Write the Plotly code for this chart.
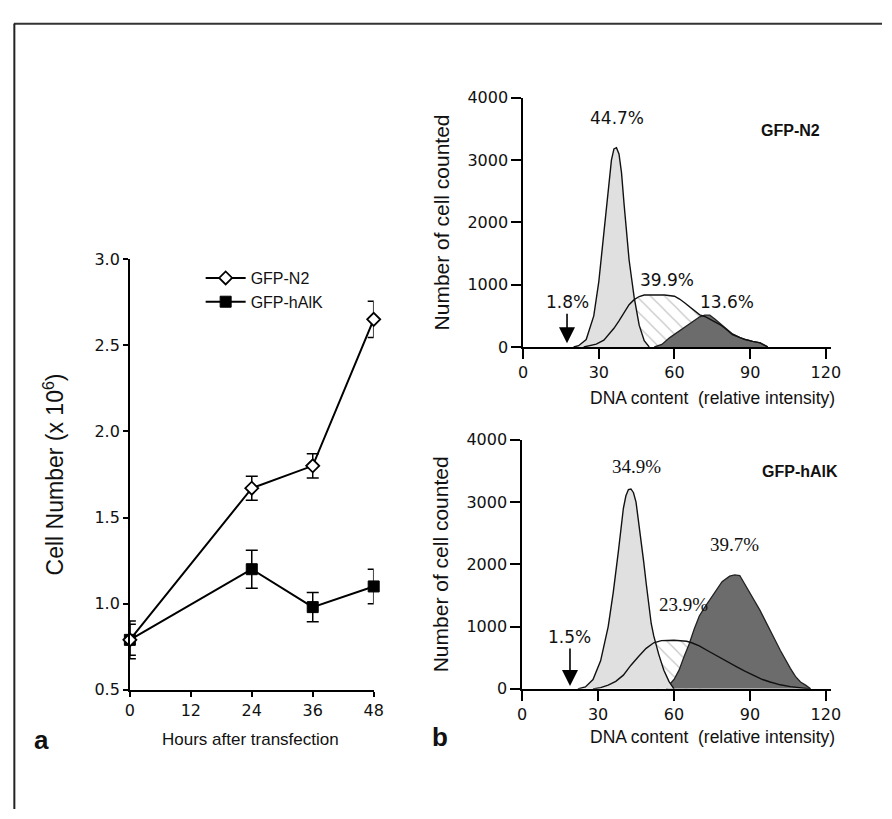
import plotly.graph_objects as go

# ---------------- data: panel a (growth curve) ----------------
hours = [0, 24, 36, 48]
n2_mean = [0.79, 1.67, 1.80, 2.65]
n2_err = [0.11, 0.07, 0.07, 0.105]
halk_mean = [0.79, 1.20, 0.98, 1.10]
halk_err = [0.09, 0.11, 0.085, 0.10]
hour_ticks = [0, 12, 24, 36, 48]
cell_ticks = [0.5, 1.0, 1.5, 2.0, 2.5, 3.0]

# ---------------- data: panel b, GFP-N2 histogram ----------------
n2_g1_x = [20, 22, 25, 28, 30, 32, 34, 35, 36, 37, 38, 39, 40, 41, 42, 43, 44, 46, 48, 50]
n2_g1_y = [0, 20, 120, 500, 1050, 1800, 2600, 3000, 3180, 3200, 3100, 2800, 2300, 1800, 1400, 1100, 800, 350, 100, 0]
n2_env_x = [24, 27, 29, 32, 34, 36, 38, 40, 42, 44, 46, 48, 52, 56, 60, 62, 64, 66, 68, 70, 72, 75, 78, 80, 83, 86, 88, 91, 94, 97]
n2_env_y = [0, 20, 45, 110, 200, 300, 420, 560, 680, 760, 810, 835, 840, 835, 815, 770, 710, 640, 570, 515, 490, 430, 360, 300, 200, 150, 120, 90, 65, 0]
n2_s_x = [42, 44, 46, 48, 52, 56, 60, 62, 64, 66, 68, 70, 72, 74]
n2_s_y = [680, 760, 810, 835, 840, 835, 815, 770, 710, 640, 570, 515, 490, 460]
n2_g2_x = [52, 55, 58, 62, 65, 68, 70, 72, 74, 76, 78, 80, 83, 86, 88, 91, 94, 97]
n2_g2_y = [0, 40, 146, 260, 354, 440, 484, 510, 510, 450, 380, 310, 210, 150, 120, 90, 65, 0]

# ---------------- data: panel b, GFP-hAlK histogram ----------------
ha_g1_x = [22, 25, 28, 31, 34, 36, 38, 40, 41, 42, 43, 44, 45, 46, 47, 48, 49, 50, 51, 52, 54, 56, 58, 60]
ha_g1_y = [0, 30, 150, 450, 1000, 1550, 2200, 2900, 3100, 3200, 3210, 3150, 3000, 2700, 2400, 2050, 1700, 1400, 1050, 850, 550, 300, 120, 0]
ha_env_x = [28, 31, 34, 37, 40, 43, 46, 49, 52, 55, 60, 65, 67, 70, 73, 76, 79, 82, 85, 88, 91, 95, 98, 102, 106, 110, 114]
ha_env_y = [0, 20, 60, 120, 220, 380, 520, 650, 740, 775, 780, 765, 740, 690, 620, 550, 480, 410, 350, 285, 230, 150, 110, 65, 35, 15, 0]
ha_s_x = [49, 52, 55, 60, 65, 67, 70, 72]
ha_s_y = [650, 740, 775, 780, 765, 740, 690, 650]
ha_g2_x = [57, 58, 60, 62, 64, 66, 68, 70, 72, 74, 76, 79, 82, 84, 86, 88, 90, 92, 94, 96, 98, 100, 102, 104, 106, 108, 110, 112, 114]
ha_g2_y = [0, 60, 150, 300, 520, 720, 960, 1170, 1300, 1420, 1560, 1720, 1810, 1830, 1820, 1680, 1560, 1420, 1260, 1100, 930, 780, 620, 470, 330, 200, 110, 60, 0]

dna_ticks = [0, 30, 60, 90, 120]
count_ticks = [0, 1000, 2000, 3000, 4000]

W, H = 892, 819
def px(x):
    return x / W
def py(y):
    return 1 - y / H

SANS = "DejaVu Sans"
ARIAL = "Liberation Sans, Arial"
SERIF = "Liberation Serif, Times New Roman"

fig = go.Figure()

# ---- panel a traces ----
fig.add_trace(go.Scatter(
    x=hours, y=halk_mean, name="GFP-hAlK", mode="lines+markers",
    line=dict(color="black", width=2),
    marker=dict(symbol="square", size=11, color="black", line=dict(color="black", width=1)),
    error_y=dict(type="data", array=halk_err, color="black", thickness=1.5, width=6),
    cliponaxis=False, xaxis="x", yaxis="y"))
fig.add_trace(go.Scatter(
    x=hours, y=n2_mean, name="GFP-N2", mode="lines+markers",
    line=dict(color="black", width=2),
    marker=dict(symbol="diamond", size=10, color="white", line=dict(color="black", width=1.8)),
    error_y=dict(type="data", array=n2_err, color="black", thickness=1.5, width=6),
    cliponaxis=False, xaxis="x", yaxis="y"))

# ---- panel b histograms ----
def add_hist(xa, ya, g1x, g1y, envx, envy, sx, sy, g2x, g2y):
    fig.add_trace(go.Scatter(x=sx, y=sy, mode="lines", fill="tozeroy", fillcolor="white",
                             fillpattern=dict(shape="\\", fgcolor="#8a8a8a", bgcolor="white", size=10, solidity=0.12),
                             line=dict(width=0), showlegend=False, xaxis=xa, yaxis=ya, hoverinfo="skip"))
    fig.add_trace(go.Scatter(x=g2x, y=g2y, mode="lines", fill="tozeroy", fillcolor="#6c6c6c",
                             line=dict(color="#222", width=1.3), showlegend=False, xaxis=xa, yaxis=ya))
    fig.add_trace(go.Scatter(x=g1x, y=g1y, mode="lines", fill="tozeroy", fillcolor="#e0e0e0",
                             line=dict(color="#111", width=1.4), showlegend=False, xaxis=xa, yaxis=ya))
    fig.add_trace(go.Scatter(x=envx, y=envy, mode="lines",
                             line=dict(color="#111", width=1.4), showlegend=False, xaxis=xa, yaxis=ya))

add_hist("x2", "y2", n2_g1_x, n2_g1_y, n2_env_x, n2_env_y, n2_s_x, n2_s_y, n2_g2_x, n2_g2_y)
add_hist("x3", "y3", ha_g1_x, ha_g1_y, ha_env_x, ha_env_y, ha_s_x, ha_s_y, ha_g2_x, ha_g2_y)

axis_common = dict(showline=True, linecolor="black", linewidth=1.6, ticks="outside",
                   tickcolor="black", tickwidth=1.6, showgrid=False, zeroline=False,
                   tickfont=dict(family=SANS, size=16, color="#111"))

fig.update_layout(
    width=W, height=H, margin=dict(l=0, r=0, t=0, b=0),
    paper_bgcolor="white", plot_bgcolor="white",
    xaxis=dict(domain=[px(127), px(375)], anchor="y", range=[0, 48], tickvals=hour_ticks, ticklen=5,
               **axis_common),
    yaxis=dict(domain=[py(697), py(256)], anchor="x", range=[0.5, 3.0], tickvals=cell_ticks, tickformat=".1f", ticklen=5,
               title=dict(text="Cell Number (x 10<sup>6</sup>)", font=dict(family=ARIAL, size=23, color="#111"), standoff=24),
               **axis_common),
    xaxis2=dict(domain=[px(527), px(840)], anchor="y2", range=[0, 122], tickvals=dna_ticks, ticklen=10,
                **axis_common),
    yaxis2=dict(domain=[py(346), py(91)], anchor="x2", range=[0, 4000], tickvals=count_ticks, ticklen=10,
                title=dict(text="Number of cell counted", font=dict(family=ARIAL, size=21, color="#111"), standoff=12),
                **axis_common),
    xaxis3=dict(domain=[px(526), px(840)], anchor="y3", range=[0, 122], tickvals=dna_ticks, ticklen=10,
                **axis_common),
    yaxis3=dict(domain=[py(696), py(441)], anchor="x3", range=[0, 4000], tickvals=count_ticks, ticklen=10,
                title=dict(text="Number of cell counted", font=dict(family=ARIAL, size=21, color="#111"), standoff=12),
                **axis_common),
    legend=dict(x=px(199), y=py(258), xanchor="left", yanchor="top", traceorder="reversed",
                font=dict(family=ARIAL, size=16, color="#111"), bgcolor="rgba(0,0,0,0)", itemwidth=40),
    showlegend=True,
)

ann = []
def txt(text, x, y, xr, yr, font, size, bold=False, xanchor="center"):
    ann.append(dict(text=("<b>%s</b>" % text) if bold else text, x=x, y=y, xref=xr, yref=yr,
                    showarrow=False, xanchor=xanchor, yanchor="middle",
                    font=dict(family=font, size=size, color="#111")))

def arrow_label(text, xv, tip_y, label_y, xr, yr):
    # label sits at the arrow's tail; the arrow points down to the tip
    ann.append(dict(text=text, x=xv, y=tip_y, ax=xv, ay=label_y, xref=xr, yref=yr, axref=xr, ayref=yr,
                    showarrow=True, arrowhead=2, arrowsize=2.0, arrowwidth=1.6, arrowcolor="black",
                    standoff=0, startstandoff=0,
                    font=dict(family=SANS, size=17, color="#111")))

txt("Hours after transfection", px(250), py(748), "paper", "paper", ARIAL, 17)
txt("DNA content  (relative intensity)", px(720), py(398), "paper", "paper", ARIAL, 17.5)
txt("DNA content  (relative intensity)", px(720), py(745), "paper", "paper", ARIAL, 17.5)
txt("44.7%", 37.4, 3672, "x2", "y2", SANS, 17)
txt("39.9%", 56.9, 1078, "x2", "y2", SANS, 17)
arrow_label("1.8%", 17.4, 60, 719, "x2", "y2")
txt("13.6%", 81.0, 719, "x2", "y2", SANS, 17)
txt("GFP-N2", 93.5, 3484, "x2", "y2", ARIAL, 16, bold=True, xanchor="left")
txt("34.9%", 45.1, 3576, "x3", "y3", SERIF, 19)
txt("39.7%", 84.0, 2322, "x3", "y3", SERIF, 19)
txt("23.9%", 63.8, 1349, "x3", "y3", SERIF, 19)
arrow_label("1.5%", 18.9, 47, 831, "x3", "y3")
txt("GFP-hAlK", 93.8, 3498, "x3", "y3", ARIAL, 16, bold=True, xanchor="left")
txt("a", px(37), py(748), "paper", "paper", ARIAL, 26, bold=True)
txt("b", px(442), py(745), "paper", "paper", ARIAL, 26, bold=True)
fig.update_layout(annotations=ann)

# page frame
fig.update_layout(shapes=[
    dict(type="line", xref="paper", yref="paper", x0=px(9), x1=1, y0=py(15), y1=py(15), line=dict(color="#333", width=2)),
    dict(type="line", xref="paper", yref="paper", x0=px(9.5), x1=px(9.5), y0=py(15), y1=0, line=dict(color="#222", width=2)),
])

fig.write_html("out.html", config={"displayModeBar": False},
               post_script="document.body.style.margin='0px';document.body.style.overflow='hidden';")
